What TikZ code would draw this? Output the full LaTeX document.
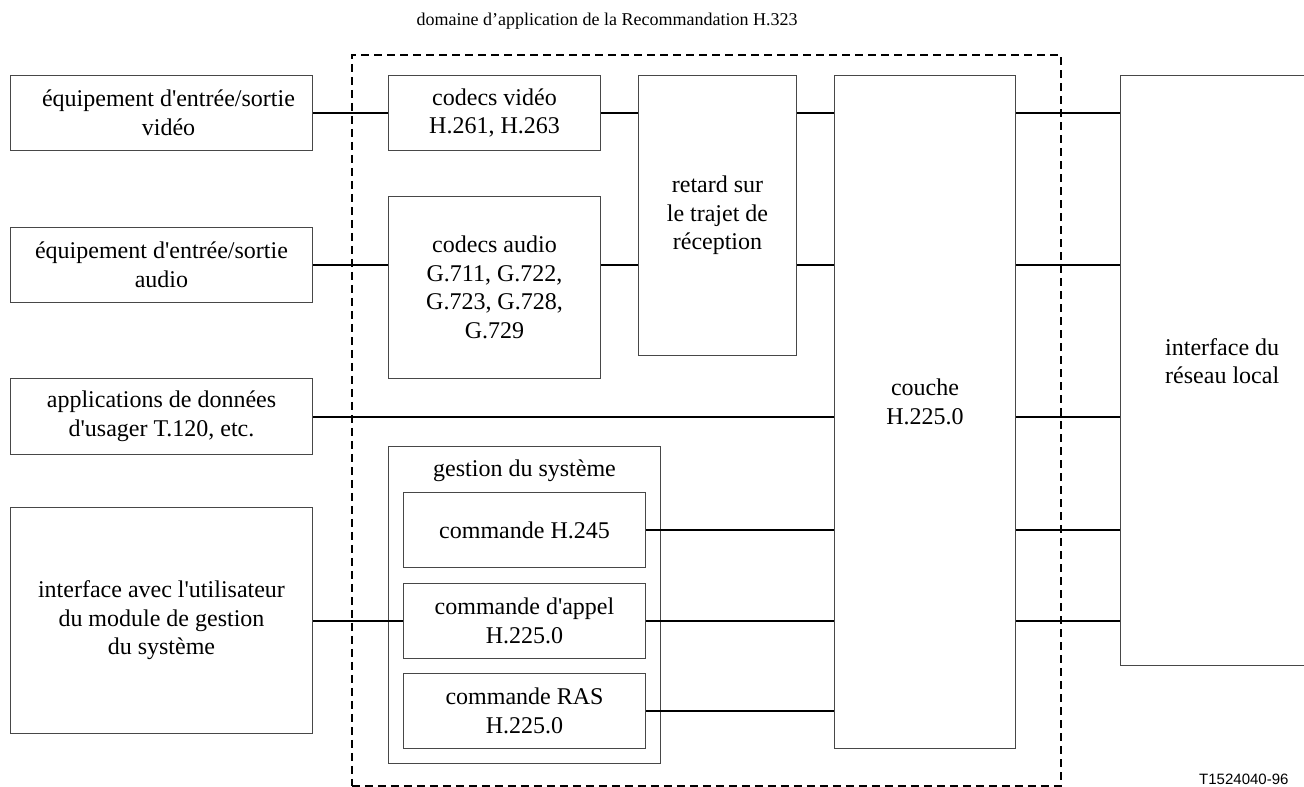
\documentclass[tikz,border=0pt]{standalone}
\usepackage{fontspec}
\setmainfont{Liberation Serif}[Ligatures=TeXOff]
\newfontfamily\labelsans{Liberation Sans}
\tikzset{
  blk/.style={draw=black!72, line width=1pt, inner sep=0pt, align=center,
              anchor=north west, font=\fontsize{24}{28.6}\selectfont},
  frameless/.style={inner sep=0pt, anchor=north west},
  wire/.style={line width=2pt},
  scopebox/.style={draw, line width=1.6pt, dash pattern=on 8pt off 5pt,
                   inner sep=0pt, anchor=north west},
  txt/.style={align=center, font=\fontsize{24}{28.6}\selectfont}
}
\begin{document}
\begin{tikzpicture}[x=1pt,y=-1pt]
\useasboundingbox (0,0) rectangle (1304,787);

% scope of the recommendation
\node[scopebox, minimum width=709, minimum height=731] (domain) at (351,54) {};
\node[font=\fontsize{18}{21}\selectfont] (title) at (607,21)
  {domaine d’application de la Recommandation H.323};

% terminal equipment on the left
\node[blk, minimum width=302, minimum height=75] (vidio) at (10,75)
  {\hspace*{14pt}équipement d'entrée/sortie\\\hspace*{14pt}vidéo};
\node[blk, minimum width=302, minimum height=75] (audio) at (10,227)
  {équipement d'entrée/sortie\\audio};
\node[blk, minimum width=302, minimum height=76] (appdata) at (10,378)
  {applications de données\\d'usager T.120, etc.};
\node[blk, minimum width=302, minimum height=226] (userif) at (10,507)
  {interface avec l'utilisateur\\du module de gestion\\du système};

% codecs and receive path delay
\node[blk, minimum width=212, minimum height=75] (vcodec) at (388,75)
  {codecs vidéo\\H.261, H.263};
\node[blk, minimum width=212, minimum height=182] (acodec) at (388,196)
  {codecs audio\\G.711, G.722,\\G.723, G.728,\\G.729};
\node[blk, minimum width=158, minimum height=280] (delay) at (638,75)
  {retard sur\\le trajet de\\réception};

% system control
\node[blk, minimum width=272, minimum height=317] (gestion) at (388,446) {};
\node[txt] (gestlbl) at ([yshift=-25pt]gestion.north) {gestion du système};
\node[blk, minimum width=242, minimum height=75] (h245) at (403,492)
  {commande H.245};
\node[blk, minimum width=242, minimum height=75] (callctl) at (403,583)
  {commande d'appel\\H.225.0};
\node[blk, minimum width=242, minimum height=75] (ras) at (403,673)
  {commande RAS\\H.225.0};

% H.225.0 layer
\node[blk, minimum width=181, minimum height=673] (couche) at (834,75) {};
\node[txt] (couchetext) at ([yshift=10pt]couche.center) {couche\\H.225.0};

% LAN interface, open to the right
\node[frameless, minimum width=184, minimum height=590] (lan) at (1120,75) {};
\draw[draw=black!72, line width=1pt]
  (lan.north east) -- (lan.north west) -- (lan.south west) -- (lan.south east);
\node[txt] (lantext) at ([xshift=10pt,yshift=9pt]lan.center)
  {interface du\\réseau local};

% video path
\draw[wire] (vidio.east) -- (vcodec.west);
\draw[wire] (vcodec.east) -- (delay.west |- vcodec.east);
\draw[wire] (delay.east |- vcodec.east) -- (couche.west |- vcodec.east);
\draw[wire] (couche.east |- vcodec.east) -- (lan.west |- vcodec.east);

% audio path
\draw[wire] (audio.east) -- (acodec.west |- audio.east);
\draw[wire] (acodec.east |- audio.east) -- (delay.west |- audio.east);
\draw[wire] (delay.east |- audio.east) -- (couche.west |- audio.east);
\draw[wire] (couche.east |- audio.east) -- (lan.west |- audio.east);

% data path
\draw[wire] (appdata.east) -- (couche.west |- appdata.east);
\draw[wire] (couche.east |- appdata.east) -- (lan.west |- appdata.east);

% control paths
\draw[wire] (h245.east) -- (couche.west |- h245.east);
\draw[wire] (couche.east |- h245.east) -- (lan.west |- h245.east);
\draw[wire] (userif.east) -- (callctl.west |- userif.east);
\draw[wire] (callctl.east) -- (couche.west |- callctl.east);
\draw[wire] (couche.east |- callctl.east) -- (lan.west |- callctl.east);
\draw[wire] (ras.east) -- (couche.west |- ras.east);

% figure number
\node[font=\labelsans\fontsize{15}{17}\selectfont, anchor=east] (figno) at (1292,779)
  {T1524040-96};
\end{tikzpicture}
\end{document}
